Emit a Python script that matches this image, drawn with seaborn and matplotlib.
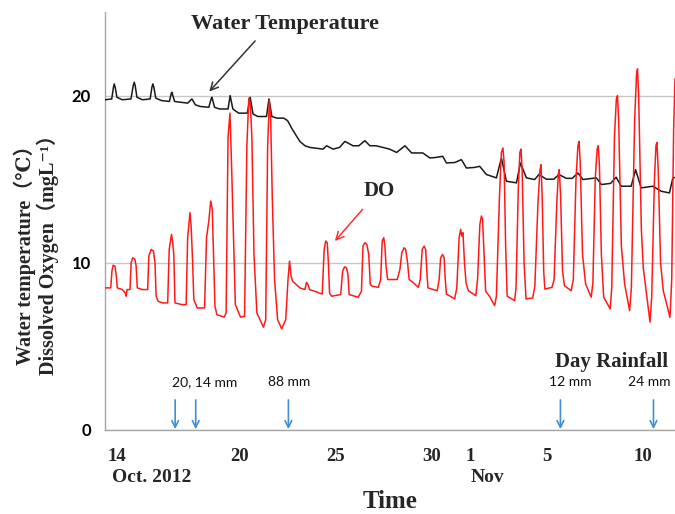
import matplotlib
matplotlib.use("Agg")
import matplotlib.pyplot as plt
import seaborn as sns
import pandas as pd

# ---- data (day of October 2012; 32 = 1 Nov) ----
temp_day = [13.01, 13.35, 13.44, 13.48, 13.53, 13.62, 13.9, 14.35, 14.47, 14.52, 14.57, 14.66,
            14.95, 15.35, 15.44, 15.49, 15.54, 15.64, 15.95, 16.35, 16.44, 16.48, 16.53, 16.62,
            16.95, 17.3, 17.52, 17.7, 17.95, 18.4, 18.52, 18.56, 18.61, 18.7, 18.95, 19.4,
            19.51, 19.65, 19.95, 20.4, 20.55, 20.7, 20.95, 21.4, 21.53, 21.68, 21.95, 22.3,
            22.5, 22.71, 22.95, 23.14, 23.4, 23.66, 24.0, 24.34, 24.53, 24.86, 25.2, 25.48,
            25.9, 26.2, 26.52, 26.78, 27.1, 27.45, 27.8, 28.17, 28.6, 28.95, 29.53, 29.9,
            30.2, 30.57, 30.76, 31.2, 31.54, 31.8, 32.2, 32.49, 32.84, 33.36, 33.62, 33.88,
            34.4, 34.61, 34.92, 35.35, 35.57, 35.96, 36.35, 36.61, 37.0, 37.3, 37.6, 37.86,
            38.56, 38.82, 39.3, 39.59, 39.85, 40.37, 40.6, 40.89, 41.5, 41.93, 42.36, 42.54,
            42.65]
temp_val = [19.75, 19.8, 20.5, 20.7, 20.5, 19.9, 19.75, 19.8, 20.6, 20.8, 20.6, 19.9,
            19.75, 19.8, 20.5, 20.7, 20.5, 19.85, 19.7, 19.65, 20.1, 20.2, 20.0, 19.65,
            19.6, 19.55, 19.8, 19.45, 19.35, 19.3, 19.8, 19.9, 19.7, 19.3, 19.2, 19.2,
            20.0, 19.2, 18.95, 18.95, 19.9, 18.9, 18.75, 18.75, 19.8, 18.75, 18.65, 18.65,
            18.5, 18.05, 17.6, 17.26, 17.0, 16.9, 16.85, 16.8, 17.0, 16.8, 16.9, 17.26,
            17.0, 17.0, 17.3, 17.0, 17.0, 16.9, 16.8, 16.6, 17.0, 16.57, 16.57, 16.27,
            16.3, 16.37, 15.97, 16.0, 16.17, 15.67, 15.7, 15.77, 15.28, 15.08, 16.27, 14.88,
            14.78, 15.97, 15.08, 14.98, 15.28, 15.0, 15.0, 15.28, 15.05, 15.05, 15.37, 14.98,
            15.08, 14.68, 14.75, 15.12, 14.58, 14.58, 15.57, 14.48, 14.58, 14.28, 14.18, 15.08,
            15.1]

do_day = [13.01, 13.30, 13.36, 13.42, 13.52, 13.58, 13.64, 13.9, 14.05, 14.10, 14.15,
          14.30, 14.36, 14.44, 14.56, 14.62, 14.68, 14.95, 15.22,
          15.28, 15.40, 15.52, 15.60, 15.66, 15.76, 16.0, 16.26,
          16.34, 16.46, 16.52, 16.58, 16.64, 17.0, 17.22,
          17.30, 17.42, 17.48, 17.56, 17.62, 17.8, 18.18,
          18.28, 18.40, 18.50, 18.58, 18.66, 18.72, 18.82, 19.2,
          19.30, 19.40, 19.50, 19.58, 19.64, 19.72, 19.78, 20.05,
          20.26, 20.38, 20.48, 20.56, 20.64, 20.75, 20.90, 21.24,
          21.36, 21.46, 21.55, 21.62, 21.70, 21.82, 21.98, 22.19,
          22.40, 22.52, 22.60, 22.68, 22.76, 23.14, 23.40, 23.48, 23.56, 23.64, 23.83, 24.30,
          24.40, 24.48, 24.56, 24.62, 24.68, 24.79, 25.26,
          25.36, 25.46, 25.56, 25.64, 25.70, 26.17, 26.34,
          26.42, 26.52, 26.62, 26.72, 26.80, 26.90, 27.22, 27.34,
          27.42, 27.50, 27.56, 27.62, 27.70, 28.20, 28.34,
          28.44, 28.56, 28.64, 28.74, 28.82, 29.05, 29.30, 29.40,
          29.50, 29.60, 29.68, 29.74, 29.80, 30.28, 30.38,
          30.46, 30.56, 30.64, 30.70, 30.76, 31.19, 31.30,
          31.42, 31.50, 31.56, 31.62, 31.70, 31.78, 31.90, 32.29, 32.38,
          32.50, 32.58, 32.64, 32.72, 32.80, 33.0, 33.27, 33.36,
          33.52, 33.62, 33.70, 33.76, 33.84, 33.92, 34.31, 34.38,
          34.50, 34.58, 34.64, 34.70, 34.80, 34.90, 35.25, 35.36,
          35.52, 35.62, 35.68, 35.74, 35.82, 35.88, 36.25, 36.36,
          36.50, 36.58, 36.63, 36.70, 36.80, 36.90, 37.25, 37.36,
          37.50, 37.60, 37.66, 37.72, 37.84, 38.0, 38.29, 38.38,
          38.50, 38.60, 38.66, 38.72, 38.82, 38.94, 39.28, 39.36,
          39.50, 39.60, 39.66, 39.72, 39.86, 40.03, 40.29, 40.38,
          40.55, 40.65, 40.70, 40.76, 40.90, 41.00, 41.35, 41.44,
          41.58, 41.66, 41.71, 41.78, 41.90, 42.04, 42.39, 42.48, 42.58, 42.65]
do_val = [8.5, 8.5, 9.5, 9.85, 9.8, 9.3, 8.5, 8.4, 8.2, 8.0, 8.4,
          8.4, 10.0, 10.3, 10.2, 9.8, 8.5, 8.4, 8.4,
          10.4, 10.8, 10.7, 10.0, 8.0, 7.7, 7.6, 7.6,
          10.8, 11.7, 11.2, 10.5, 7.6, 7.5, 7.5,
          11.5, 13.0, 12.2, 10.0, 7.8, 7.3, 7.3,
          11.5, 12.5, 13.7, 13.2, 10.0, 7.4, 6.9, 6.75,
          7.0, 17.5, 18.95, 16.0, 13.5, 10.0, 7.5, 6.75,
          6.8, 17.0, 19.84, 19.5, 17.5, 10.5, 7.0, 6.15,
          6.6, 17.0, 19.7, 18.5, 14.0, 9.0, 6.6, 6.05,
          6.6, 9.0, 10.1, 9.2, 8.9, 8.5, 8.4, 8.83, 8.7, 8.4, 8.33, 8.13,
          10.8, 11.3, 11.2, 10.0, 8.2, 8.0, 8.1,
          9.5, 9.76, 9.7, 9.3, 8.1, 7.94, 8.3,
          11.0, 11.2, 11.1, 10.5, 8.7, 8.6, 8.53, 9.0,
          11.3, 11.5, 11.0, 9.8, 9.0, 9.0, 9.6,
          10.6, 10.9, 10.8, 10.0, 9.0, 8.8, 8.53, 9.0,
          10.8, 11.0, 10.8, 9.5, 8.5, 8.33, 9.0,
          10.3, 10.5, 10.3, 9.0, 8.13, 7.84, 8.5,
          11.5, 12.0, 11.6, 11.8, 10.0, 8.8, 8.33, 8.03, 9.0,
          12.3, 12.8, 12.6, 10.5, 8.3, 8.0, 7.44, 8.0,
          14.0, 16.6, 16.87, 16.0, 11.0, 8.0, 7.74, 8.5,
          14.5, 16.6, 16.8, 15.5, 10.0, 7.84, 7.9, 8.6,
          13.5, 15.5, 15.87, 14.0, 9.5, 8.43, 8.53, 9.0,
          13.5, 15.3, 15.57, 14.0, 9.5, 8.63, 8.33, 9.0,
          15.0, 17.0, 17.26, 16.0, 10.5, 8.73, 7.94, 8.8,
          15.0, 16.8, 17.0, 15.8, 10.5, 7.94, 7.24, 8.5,
          17.5, 19.8, 20.0, 18.5, 11.0, 8.73, 7.14, 8.5,
          18.5, 21.3, 21.6, 20.0, 12.0, 9.7, 6.45, 8.0,
          15.0, 17.0, 17.2, 15.5, 10.0, 8.33, 6.74, 9.0, 18.0, 21.0]

rain_day = [16.65, 17.72, 22.54, 36.69, 41.53]
rain_text = ["20, 14 mm", "88 mm", "12 mm", "24 mm"]
rain_text_day = [18.16, 22.57, 37.22, 41.32]

tick_pos = [13.6, 20, 25, 30, 32, 36, 41]
tick_lab = ["14", "20", "25", "30", "1", "5", "10"]
minor_days = list(range(14, 43))

# ---- plot ----
sns.set_theme(style="white")
SERIF = ["Liberation Serif", "DejaVu Serif", "DejaVu Sans", "Noto Sans CJK JP"]
SANS = ["Lato", "DejaVu Sans"]
plt.rcParams["font.family"] = SERIF

fig = plt.figure(figsize=(6.75, 5.14), dpi=100)
ax = fig.add_axes([105 / 675, 1 - 430 / 514, 1 - 105 / 675, (430 - 12) / 514])

temp_df = pd.DataFrame({"day": temp_day, "value": temp_val})
do_df = pd.DataFrame({"day": do_day, "value": do_val})
sns.lineplot(data=temp_df, x="day", y="value", ax=ax, color="#1a1a1a", lw=1.1,
             estimator=None, zorder=3)
sns.lineplot(data=do_df, x="day", y="value", ax=ax, color="#ff1a1a", lw=1.1,
             estimator=None, zorder=4)

ax.set_xlim(13.0, 42.65)
ax.set_ylim(0, 25)
ax.set_yticks([0, 10, 20])
ax.set_yticklabels(["0", "10", "20"], fontfamily=SANS, fontweight="bold", fontsize=12)
ax.tick_params(axis="y", length=0, pad=10, colors="black")
ax.set_xticks(tick_pos)
ax.set_xticklabels(tick_lab, fontweight="bold", fontsize=13.5)
ax.set_xticks(minor_days, minor=True)
ax.tick_params(axis="x", which="major", length=0, pad=13)
ax.tick_params(axis="x", which="minor", direction="in", length=3.5, width=0.9,
               color="#a0a0a0")
ax.grid(axis="y", color="#c8c8c8", lw=1.0, zorder=0)
ax.grid(axis="x", visible=False)
for s in ["top", "right"]:
    ax.spines[s].set_visible(False)
for s in ["left", "bottom"]:
    ax.spines[s].set_color("#a6a6a6")
    ax.spines[s].set_linewidth(1.0)
ax.set_xlabel("")
ax.set_ylabel("")

# rainfall arrows
blue = "#3f8fd8"
for d in rain_day:
    ax.annotate("", xy=(d, 0.05), xytext=(d, 1.8),
                arrowprops=dict(arrowstyle="->", color=blue, lw=1.2,
                                shrinkA=0, shrinkB=0, mutation_scale=12))
for d, t in zip(rain_text_day, rain_text):
    ax.text(d, 2.86, t, ha="center", va="center", fontsize=10, fontfamily=SANS,
            color="#111111")
ax.text(36.4, 4.05, "Day Rainfall", ha="left", va="center", fontsize=15,
        fontweight="bold")

# series labels
ax.text(22.36, 24.3, "Water Temperature", ha="center", va="center", fontsize=16,
        fontweight="bold")
ax.annotate("", xy=(18.42, 20.24), xytext=(20.81, 23.27),
            arrowprops=dict(arrowstyle="->", color="#333333", lw=1.1,
                            shrinkA=0, shrinkB=0, mutation_scale=14))
ax.text(27.25, 14.3, "DO", ha="center", va="center", fontsize=15, fontweight="bold")
ax.annotate("", xy=(24.96, 11.3), xytext=(26.4, 13.2),
            arrowprops=dict(arrowstyle="->", color="#ff3030", lw=1.1,
                            shrinkA=0, shrinkB=0, mutation_scale=14))

# axis texts
fig.text(152 / 675, 1 - 478 / 514, "Oct. 2012", ha="center", va="center",
         fontsize=14, fontweight="bold")
fig.text(487 / 675, 1 - 478 / 514, "Nov", ha="center", va="center",
         fontsize=14, fontweight="bold")
fig.text(390 / 675, 1 - 501 / 514, "Time", ha="center", va="center",
         fontsize=18, fontweight="bold")
fig.text(25 / 675, 1 - 250 / 514, "Water temperature（℃）", ha="center", va="center",
         rotation=90, fontsize=14.5, fontweight="bold")
fig.text(48 / 675, 1 - 250 / 514, "Dissolved Oxygen（mgL⁻¹）", ha="center",
         va="center", rotation=90, fontsize=14.5, fontweight="bold")

fig.savefig("out.png", dpi=100)
